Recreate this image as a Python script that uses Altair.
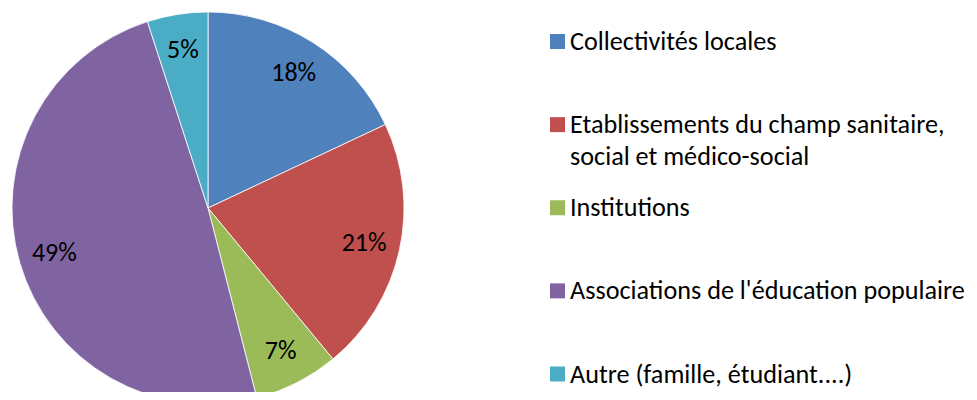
import altair as alt
import pandas as pd

categories = [
    "Collectivités locales",
    "Etablissements du champ sanitaire,\nsocial et médico-social",
    "Institutions",
    "Associations de l'éducation populaire",
    "Autre (famille, étudiant....)",
]
values = [18, 21, 7, 49, 5]
labels = ["18%", "21%", "7%", "49%", "5%"]
colors = ["#4F81BD", "#C0504D", "#9BBB59", "#8064A2", "#4BACC6"]

df = pd.DataFrame({
    "cat": categories,
    "value": values,
    "label": labels,
    "order": list(range(len(categories))),
})

FONT = "Carlito, Calibri, Lato"
CX, CY, R = 200, 200, 196

color = alt.Color("cat:N", scale=alt.Scale(domain=categories, range=colors), legend=None)

base = alt.Chart(df)

pie = base.mark_arc(outerRadius=R, stroke="white", strokeWidth=0.8, clip=True).encode(
    theta=alt.Theta("value:Q", stack=True),
    order=alt.Order("order:Q"),
    color=color,
    x=alt.value(CX),
    y=alt.value(CY),
)

pct = base.mark_text(radius=160, font=FONT, fontSize=26, color="black").encode(
    theta=alt.Theta("value:Q", stack=True),
    order=alt.Order("order:Q"),
    text="label:N",
    x=alt.value(CX),
    y=alt.value(CY),
)

ypos = alt.Y("cat:N", sort=None, axis=None,
             scale=alt.Scale(type="point", range=[33.5, 366], padding=0))

leg_sq = base.mark_square(size=225, opacity=1, filled=True).encode(
    x=alt.value(549.5),
    y=ypos,
    color=color,
)

leg_txt = base.mark_text(align="left", baseline="alphabetic", dy=8.5, font=FONT,
                         fontSize=26.2, color="black", lineBreak="\n", lineHeight=32).encode(
    x=alt.value(562),
    y=ypos,
    text="cat:N",
)

chart = alt.layer(pie, pct, leg_sq, leg_txt).properties(
    width=961, height=384, padding=0, autosize=alt.AutoSizeParams(type="none")
).configure_view(stroke=None)

chart.save("out.html", embed_options={"renderer": "svg", "actions": False})
